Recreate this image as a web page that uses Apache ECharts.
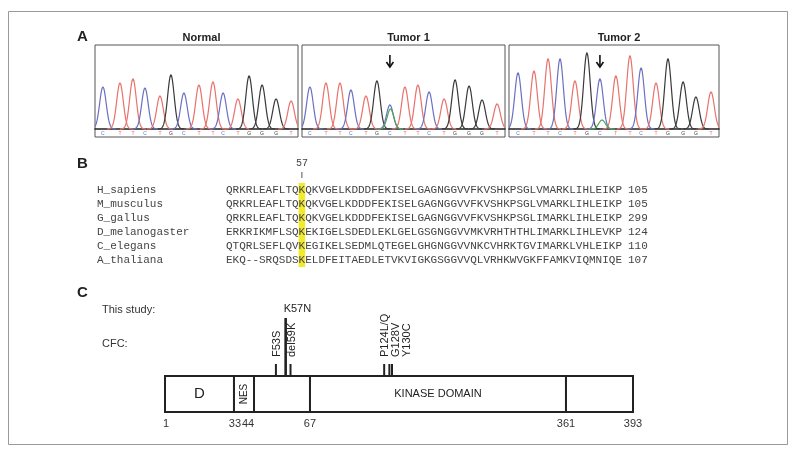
<!DOCTYPE html>
<html><head><meta charset="utf-8">
<script src="https://cdn.jsdelivr.net/npm/echarts@6/dist/echarts.min.js"></script>
<style>html,body{margin:0;padding:0;background:#fff}#c{width:800px;height:457px}</style>
</head><body><div id="c"></div>
<script>
// ================= DATA =================
// Panel A: sequencing chromatograms (peak position in scan units 0-100, peak intensity)
const baseCalls = ['C','T','T','C','T','G','C','T','T','C','T','G','G','G','T'];
const normalPos = [3.9,12.3,18.7,24.6,32.0,37.4,43.8,51.2,58.1,63.1,70.4,75.9,82.3,89.2,96.6];
const normalHeight = [42,46,50,41,33,54,36,44,47,36,30,53,44,30,28];
const tumor1Pos = [3.9,11.8,18.7,24.1,31.5,36.9,43.3,50.7,57.1,62.6,70.0,75.4,82.3,88.7,96.1];
const tumor1Height = [42,46,46,39,33,48,24,42,44,37,30,49,43,29,25];
const tumor2Pos = [4.3,11.9,18.6,24.3,31.4,37.1,43.3,50.9,57.6,62.9,70.0,75.7,82.9,89.0,96.2];
const tumor2Height = [56,58,70,70,48,76,50,53,73,61,46,70,47,32,37];
const mutantBase = 'A';
const mutIndex = 6;
const tumor1AltPeak = [43.6, 20];
const tumor2AltPeak = [44.3, 9];

// Panel B: alignment
const species = ['H_sapiens','M_musculus','G_gallus','D_melanogaster','C_elegans','A_thaliana'];
const sequences = [
  'QRKRLEAFLTQKQKVGELKDDDFEKISELGAGNGGVVFKVSHKPSGLVMARKLIHLEIKP',
  'QRKRLEAFLTQKQKVGELKDDDFEKISELGAGNGGVVFKVSHKPSGLVMARKLIHLEIKP',
  'QRKRLEAFLTQKQKVGELKDDDFEKISELGAGNGGVVFKVSHKPSGLIMARKLIHLEIKP',
  'ERKRIKMFLSQKEKIGELSDEDLEKLGELGSGNGGVVMKVRHTHTHLIMARKLIHLEVKP',
  'QTQRLSEFLQVKEGIKELSEDMLQTEGELGHGNGGVVNKCVHRKTGVIMARKLVHLEIKP',
  'EKQ--SRQSDSKELDFEITAEDLETVKVIGKGSGGVVQLVRHKWVGKFFAMKVIQMNIQE'
];
const endResidue = [105,105,299,124,110,107];
const highlightColumn = 11;
const highlightLabel = '57';

// Panel C: protein domains and mutations
const domainBounds = [1,33,44,67,361,393];
const domainNames = ['D','NES','','KINASE DOMAIN',''];
const thisStudyMut = [['K57N',57]];
const cfcMut = [['F53S',53],['del59K',59],['P124L/Q',124],['G128V',128],['Y130C',130]];

// ================= LAYOUT / STYLE =================
const SANS = '"Liberation Sans", Arial, sans-serif';
const MONO = '"Liberation Mono", "Courier New", monospace';
const baseColor = {C:'#6a70c2', T:'#e8726c', G:'#3a3a3a', A:'#4ea455'};
const baseKeys = ['C','T','G','A'];
// schematic (not-to-scale) drawing of the protein, as in the figure: residue -> drawing units
const schematicAnchors = [[1,0],[33,14.74],[44,19.02],[67,30.98],[130,48.5],[361,85.68],[393,100]];
function toS(r){
  for(let i=1;i<schematicAnchors.length;i++){
    const a=schematicAnchors[i-1], b=schematicAnchors[i];
    if(r<=b[0]) return a[1]+(r-a[0])/(b[0]-a[0])*(b[1]-a[1]);
  }
  return 100;
}
const boundaryLabelDx = [1,1,-6,0,0,0];

const chart = echarts.init(document.getElementById('c'));

const panelsA = [
  {title:'Normal', pos:normalPos, h:normalHeight, alt:null, left:95, width:203},
  {title:'Tumor 1', pos:tumor1Pos, h:tumor1Height, alt:tumor1AltPeak, left:302, width:203},
  {title:'Tumor 2', pos:tumor2Pos, h:tumor2Height, alt:tumor2AltPeak, left:509, width:210}
];

const grids=[], xAxes=[], yAxes=[], series=[], titles=[];

function peakRender(params, api){
  const pos=api.value(0), h=api.value(1), b=baseKeys[api.value(2)], showLetter=api.value(3);
  const base=api.coord([pos,0]), top=api.coord([pos,h]);
  const amp=base[1]-top[1], sigma=3.3, pts=[];
  for(let dx=-13; dx<=13.01; dx+=0.5){
    pts.push([base[0]+dx, base[1]-amp*Math.exp(-dx*dx/(2*sigma*sigma))]);
  }
  const ch=[{type:'polyline', shape:{points:pts}, style:{stroke:baseColor[b], lineWidth:1.2, fill:'none'}}];
  if(showLetter) ch.push({type:'text', x:base[0], y:base[1]+4.5,
    style:{text:b, fill:baseColor[b], font:'5px '+SANS, align:'center', verticalAlign:'middle'}});
  return {type:'group', children:ch};
}
function arrowRender(params, api){
  const x=api.coord([api.value(0),0])[0];
  const y0=params.coordSys.y+10, y1=params.coordSys.y+22;
  return {type:'group', children:[
    {type:'line', shape:{x1:x,y1:y0,x2:x,y2:y1}, style:{stroke:'#111', lineWidth:1.6}},
    {type:'polyline', shape:{points:[[x-3.5,y1-5],[x,y1],[x+3.5,y1-5]]}, style:{stroke:'#111', lineWidth:1.6, fill:'none'}}
  ]};
}

panelsA.forEach((p,i)=>{
  grids.push({left:p.left, width:p.width, top:45, height:92, show:true, borderColor:'#555', borderWidth:1});
  xAxes.push({gridIndex:i, type:'value', min:0, max:100, axisLine:{show:true, onZero:true, lineStyle:{color:'#222', width:1.6}},
    axisTick:{show:false}, axisLabel:{show:false}, splitLine:{show:false}});
  yAxes.push({gridIndex:i, type:'value', min:-8, max:84, show:false, splitLine:{show:false}});
  const data=p.pos.map((x,k)=>[x, p.h[k], baseKeys.indexOf(baseCalls[k]), 1]);
  if(p.alt) data.push([p.alt[0], p.alt[1], baseKeys.indexOf(mutantBase), 0]);
  series.push({type:'custom', xAxisIndex:i, yAxisIndex:i, renderItem:peakRender, data:data, clip:true, silent:true});
  if(p.alt) series.push({type:'custom', xAxisIndex:i, yAxisIndex:i, renderItem:arrowRender, data:[[p.pos[mutIndex]]], silent:true, z:5});
  titles.push({text:p.title, left:p.left+p.width/2, top:27, textAlign:'center',
    textStyle:{fontFamily:SANS, fontSize:11, fontWeight:'bold', color:'#222'}});
});

// ---- Panel B ----
const gB = grids.length;
grids.push({left:226, width:396, top:183, height:84});
xAxes.push({gridIndex:gB, type:'value', min:0, max:60, show:false, splitLine:{show:false}});
yAxes.push({gridIndex:gB, type:'category', data:species, inverse:true,
  axisLine:{show:false}, axisTick:{show:false}, splitLine:{show:false},
  axisLabel:{interval:0, align:'left', margin:129, fontFamily:MONO, fontSize:11, color:'#444'}});
series.push({type:'custom', xAxisIndex:gB, yAxisIndex:gB, silent:true, z:1,
  data:[[highlightColumn, 0]],
  renderItem:(params, api)=>{
    const c=api.value(0);
    const xa=api.coord([c,0])[0], xb=api.coord([c+1,0])[0];
    const cs=params.coordSys;
    return {type:'group', children:[
      {type:'rect', shape:{x:xa, y:cs.y, width:xb-xa, height:cs.height}, style:{fill:'#f2ea2e'}},
      {type:'text', x:(xa+xb)/2, y:cs.y-20, style:{text:highlightLabel, font:'10px '+MONO, fill:'#444', align:'center', verticalAlign:'middle'}},
      {type:'line', shape:{x1:(xa+xb)/2, y1:cs.y-11, x2:(xa+xb)/2, y2:cs.y-5}, style:{stroke:'#555', lineWidth:1}}
    ]};
  }});
series.push({type:'custom', xAxisIndex:gB, yAxisIndex:gB, silent:true, z:3,
  data:species.map((s,i)=>[i]),
  renderItem:(params, api)=>{
    const r=api.value(0), seq=sequences[r], ch=[];
    for(let c=0;c<seq.length;c++){
      const pt=api.coord([c+0.5, r]);
      ch.push({type:'text', x:pt[0], y:pt[1], style:{text:seq[c], font:'11px '+MONO, fill:'#444', align:'center', verticalAlign:'middle'}});
    }
    const e=api.coord([seq.length, r]);
    ch.push({type:'text', x:e[0]+6, y:e[1], style:{text:String(endResidue[r]), font:'11px '+MONO, fill:'#444', align:'left', verticalAlign:'middle'}});
    return {type:'group', children:ch};
  }});

// ---- Panel C ----
const gC = grids.length;
grids.push({left:165, width:468, top:376, height:36});
xAxes.push({gridIndex:gC, type:'value', min:0, max:100, show:false, splitLine:{show:false}});
yAxes.push({gridIndex:gC, type:'value', min:0, max:1, show:false, splitLine:{show:false}});
const domainData = domainNames.map((n,i)=>[toS(domainBounds[i]), toS(domainBounds[i+1]), i]);
series.push({type:'custom', xAxisIndex:gC, yAxisIndex:gC, silent:true, clip:false, z:2, data:domainData,
  renderItem:(params, api)=>{
    const a=api.coord([api.value(0),1]), b=api.coord([api.value(1),0]);
    const name=domainNames[api.value(2)];
    const ch=[{type:'rect', shape:{x:a[0], y:a[1], width:b[0]-a[0], height:b[1]-a[1]}, style:{fill:'#fff', stroke:'#222', lineWidth:2}}];
    if(name){
      const vertical = (b[0]-a[0]) < 30;
      ch.push({type:'text', x:(a[0]+b[0])/2, y:(a[1]+b[1])/2, rotation: vertical?Math.PI/2:0,
        style:{text:name, font:(vertical?'10px ':(name.length===1?'15px ':'11px '))+SANS, fill:'#222', align:'center', verticalAlign:'middle'}});
    }
    return {type:'group', children:ch};
  }});
series.push({type:'custom', xAxisIndex:gC, yAxisIndex:gC, silent:true, clip:false, z:2,
  data:domainBounds.map((b,i)=>[toS(b), i]),
  renderItem:(params, api)=>{
    const p=api.coord([api.value(0),0]), i=api.value(1);
    return {type:'text', x:p[0]+boundaryLabelDx[i], y:p[1]+12,
      style:{text:String(domainBounds[i]), font:'11px '+SANS, fill:'#333', align:'center', verticalAlign:'middle'}};
  }});
// label spreading for close CFC mutations
const pxPerUnit = 468/100;
let prevLab=-1e9;
const cfcLabelDx = cfcMut.map(m=>{
  const px=toS(m[1])*pxPerUnit; const lab=Math.max(px+1, prevLab+11); prevLab=lab; return lab-px;
});
series.push({type:'custom', xAxisIndex:gC, yAxisIndex:gC, silent:true, clip:false, z:3,
  data:cfcMut.map((m,i)=>[toS(m[1]), i]),
  renderItem:(params, api)=>{
    const p=api.coord([api.value(0),1]), i=api.value(1);
    return {type:'group', children:[
      {type:'line', shape:{x1:p[0], y1:p[1]-12, x2:p[0], y2:p[1]}, style:{stroke:'#222', lineWidth:2}},
      {type:'text', x:p[0]+cfcLabelDx[i], y:p[1]-19, rotation:Math.PI/2,
        style:{text:cfcMut[i][0], font:'11px '+SANS, fill:'#222', align:'left', verticalAlign:'middle'}}
    ]};
  }});
series.push({type:'custom', xAxisIndex:gC, yAxisIndex:gC, silent:true, clip:false, z:3,
  data:thisStudyMut.map((m,i)=>[toS(m[1]), i]),
  renderItem:(params, api)=>{
    const p=api.coord([api.value(0),1]), i=api.value(1);
    return {type:'group', children:[
      {type:'line', shape:{x1:p[0], y1:p[1]-58, x2:p[0], y2:p[1]}, style:{stroke:'#222', lineWidth:2.6}},
      {type:'text', x:p[0]-2, y:p[1]-67,
        style:{text:thisStudyMut[i][0], font:'11px '+SANS, fill:'#222', align:'left', verticalAlign:'middle'}}
    ]};
  }});

// panel letters and row labels
[['A',24],['B',151],['C',280]].forEach(l=>titles.push({text:l[0], left:72, top:l[1],
  textStyle:{fontFamily:SANS, fontSize:15, fontWeight:'bold', color:'#222'}}));
titles.push({text:'This study:', left:97, top:299, textStyle:{fontFamily:SANS, fontSize:11, fontWeight:'normal', color:'#333'}});
titles.push({text:'CFC:', left:97, top:333, textStyle:{fontFamily:SANS, fontSize:11, fontWeight:'normal', color:'#333'}});

chart.setOption({
  animation:false,
  backgroundColor:'#fff',
  title:titles,
  grid:grids, xAxis:xAxes, yAxis:yAxes, series:series,
  graphic:[{type:'rect', shape:{x:8.5, y:11.5, width:779, height:433}, style:{fill:'none', stroke:'#999', lineWidth:1}, silent:true}]
});
</script></body></html>
